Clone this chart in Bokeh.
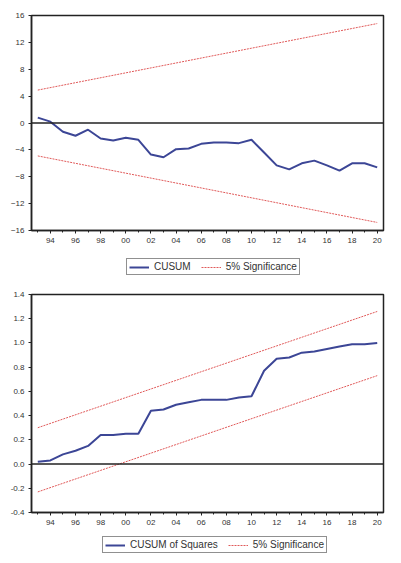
from bokeh.plotting import figure
from bokeh.layouts import column
from bokeh.models import FixedTicker, Span, Legend, LegendItem, Range1d
from bokeh.embed import file_html
from bokeh.resources import INLINE

years = list(range(1993, 2021))
cusum = [0.8, 0.2, -1.3, -1.9, -1.0, -2.3, -2.6, -2.2, -2.5, -4.7, -5.1, -3.9, -3.8, -3.1,
         -2.9, -2.9, -3.0, -2.5, -4.4, -6.3, -6.9, -6.0, -5.6, -6.3, -7.1, -6.0, -6.0, -6.6]
bound_years = [1993, 2020]
cusum_upper = [4.9, 14.8]
cusum_lower = [-4.9, -14.8]

cusumsq = [0.02, 0.03, 0.08, 0.11, 0.15, 0.24, 0.24, 0.25, 0.25, 0.44, 0.45, 0.49, 0.51, 0.53,
           0.53, 0.53, 0.55, 0.56, 0.77, 0.87, 0.88, 0.92, 0.93, 0.95, 0.97, 0.99, 0.99, 1.0]
sq_upper = [0.30, 1.26]
sq_lower = [-0.23, 0.73]

x_ticks = list(range(1994, 2021, 2))
x_labels = {t: f"{t % 100:02d}" for t in x_ticks}
top_yticks = [-16, -12, -8, -4, 0, 4, 8, 12, 16]
bot_yticks = [-0.4, -0.2, 0.0, 0.2, 0.4, 0.6, 0.8, 1.0, 1.2, 1.4]
bot_ylabels = {t: f"{t:.1f}" for t in bot_yticks}

BLUE = "#3c4696"
RED = "#e05a5a"
FONT = "Liberation Sans"
W = 385


def style(p, yticks, ylabels=None):
    p.outline_line_color = "#222222"
    p.outline_line_width = 1.5
    p.grid.visible = False
    p.xaxis.ticker = FixedTicker(ticks=x_ticks, minor_ticks=years)
    p.xaxis.major_label_overrides = x_labels
    p.yaxis.ticker = FixedTicker(ticks=yticks, minor_ticks=[])
    if ylabels:
        p.yaxis.major_label_overrides = ylabels
    for ax in (p.xaxis, p.yaxis):
        ax.axis_line_color = "#222222"
        ax.axis_line_width = 1.5
        ax.major_tick_line_color = "#222222"
        ax.minor_tick_line_color = "#222222"
        ax.major_tick_in = 0
        ax.major_tick_out = 3
        ax.minor_tick_in = 0
        ax.minor_tick_out = 2
        ax.major_label_text_font = FONT
        ax.major_label_text_font_size = "8px"
        ax.major_label_text_color = "#333333"
        ax.major_label_standoff = 4
    p.add_layout(Span(location=0, dimension="width", line_color="#222222", line_width=1.5))


def legend_fig(height, labels, xs, ys, bx, by, loc):
    # the series are drawn far outside this strip's ranges: only the legend shows
    f = figure(width=W, height=height, output_backend="svg", toolbar_location=None,
               x_axis_type=None, y_axis_type=None, min_border=0,
               x_range=Range1d(0, 1), y_range=Range1d(0, 1))
    f.outline_line_color = None
    f.grid.visible = False
    a = f.line(xs, ys, line_color=BLUE, line_width=2)
    b = f.line(bx, by, line_color=RED, line_width=1, line_dash="2 1")
    leg = Legend(items=[LegendItem(label=labels[0], renderers=[a]),
                        LegendItem(label=labels[1], renderers=[b])],
                 orientation="horizontal", location=loc,
                 border_line_color="#222222", border_line_width=1.5,
                 padding=2, spacing=10, glyph_width=20, glyph_height=10,
                 label_height=10, label_standoff=5, margin=0,
                 label_text_font=FONT, label_text_font_size="10px",
                 label_text_color="#333333", background_fill_alpha=1)
    f.add_layout(leg, "center")
    return f


p1 = figure(width=W, height=252, output_backend="svg", toolbar_location=None,
            x_range=Range1d(1992.5, 2020.5), y_range=Range1d(-16, 16),
            min_border_left=25, min_border_right=2, min_border_top=15, min_border_bottom=22)
style(p1, top_yticks)
p1.line(years, cusum, line_color=BLUE, line_width=2)
p1.line(bound_years, cusum_upper, line_color=RED, line_width=1, line_dash="2 1")
p1.line(bound_years, cusum_lower, line_color=RED, line_width=1, line_dash="2 1")
l1 = legend_fig(30, ["CUSUM", "5% Significance"], years, cusum, bound_years, cusum_upper, (95, 7))

p2 = figure(width=W, height=252, output_backend="svg", toolbar_location=None,
            x_range=Range1d(1992.5, 2020.5), y_range=Range1d(-0.4, 1.4),
            min_border_left=31, min_border_right=2, min_border_top=12, min_border_bottom=22)
style(p2, bot_yticks, bot_ylabels)
p2.line(years, cusumsq, line_color=BLUE, line_width=2)
p2.line(bound_years, sq_upper, line_color=RED, line_width=1, line_dash="2 1")
p2.line(bound_years, sq_lower, line_color=RED, line_width=1, line_dash="2 1")
l2 = legend_fig(21, ["CUSUM of Squares", "5% Significance"], years, cusumsq, bound_years, sq_upper, (71, 2))

layout = column(p1, l1, p2, l2, spacing=0)
open("out.html", "w").write(file_html(layout, INLINE))
